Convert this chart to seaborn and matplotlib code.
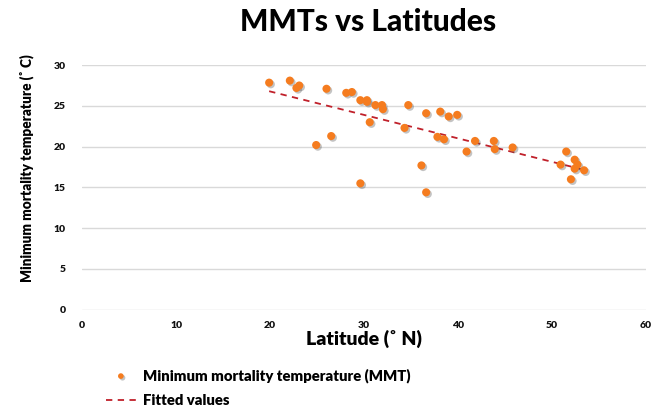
import numpy as np
import pandas as pd
import matplotlib
matplotlib.use("Agg")
import matplotlib.pyplot as plt
import matplotlib.patheffects as pe
import seaborn as sns

# values
latitude = [19.9, 22.1, 22.8, 23.1, 26.0, 28.1, 28.7, 29.6, 30.3, 30.3,
            31.2, 31.9, 32.0, 30.6, 34.7, 34.3, 36.6, 38.1, 39.0, 39.9,
            24.9, 26.5, 37.8, 38.5, 36.1, 29.6, 36.6, 41.8, 43.8, 43.9,
            40.9, 45.8, 51.5, 52.4, 52.7, 50.9, 52.4, 53.4, 52.0]
mmt = [27.85, 28.1, 27.2, 27.5, 27.1, 26.6, 26.7, 25.7, 25.7, 25.5,
       25.1, 25.1, 24.6, 23.0, 25.1, 22.3, 24.1, 24.3, 23.7, 23.9,
       20.2, 21.3, 21.2, 20.9, 17.7, 15.5, 14.4, 20.7, 20.7, 19.7,
       19.4, 19.9, 19.4, 18.4, 17.8, 17.8, 17.3, 17.1, 16.0]
fit_lat = [19.9, 53.6]
fit_mmt = [26.8, 17.1]
x_ticks = [0, 10, 20, 30, 40, 50, 60]
y_ticks = [0, 5, 10, 15, 20, 25, 30]

df = pd.DataFrame({"lat": latitude, "mmt": mmt})
fit = pd.DataFrame({"lat": fit_lat, "mmt": fit_mmt})

sns.set_style("white")
plt.rcParams["font.family"] = ["Lato", "DejaVu Sans"]
plt.rcParams["text.color"] = "black"
plt.rcParams["axes.labelcolor"] = "black"

fig = plt.figure(figsize=(6.62, 4.07), dpi=100)
ax = fig.add_axes([0.124, 0.239, 0.852, 0.601])

ax.yaxis.grid(True, color="#d9d9d9", linewidth=1)
ax.set_axisbelow(True)

sns.lineplot(data=fit, x="lat", y="mmt", ax=ax, color="#c0202a",
             linestyle=(0, (3.5, 3)), linewidth=1.3, label="Fitted values",
             zorder=2)
pts = sns.scatterplot(data=df, x="lat", y="mmt", ax=ax, color="#f57c1f",
                      s=34, edgecolor="none", zorder=3,
                      label="Minimum mortality temperature (MMT)")
pts.collections[-1].set_path_effects([
    pe.SimplePatchShadow(offset=(1.2, -1.2), shadow_rgbFace="#555555", alpha=0.35),
    pe.Normal()])

ax.set_xlim(0, 60)
ax.set_ylim(0, 30)
ax.set_xticks(x_ticks)
ax.set_yticks(y_ticks)
for s in ax.spines.values():
    s.set_visible(False)
ax.tick_params(axis="both", length=0, labelsize=7.5, colors="#111111")
ax.tick_params(axis="y", pad=12)
ax.tick_params(axis="x", pad=8)
for lab in ax.get_xticklabels() + ax.get_yticklabels():
    lab.set_fontweight(800)

ax.set_xlabel("Latitude (˚ N)", fontsize=14, fontweight=800, labelpad=0)
ax.set_ylabel("Minimum mortality temperature (˚ C)", fontsize=9.8,
              fontweight=800)
ax.yaxis.set_label_coords(-0.086, 0.58)
fig.suptitle("MMTs vs Latitudes", x=0.556, y=0.98, fontsize=21.5,
             fontweight=900)

h, l = ax.get_legend_handles_labels()
ax.get_legend().remove()
order = [1, 0]
fig.legend([h[i] for i in order], [l[i] for i in order],
           loc="upper left", bbox_to_anchor=(106 / 662, 0.096),
           frameon=False, borderpad=0, borderaxespad=0, handlelength=2.0,
           handletextpad=0.5, labelspacing=0.8, markerscale=0.7,
           prop={"size": 10.7, "weight": 800})

fig.savefig("out.png", dpi=100)
